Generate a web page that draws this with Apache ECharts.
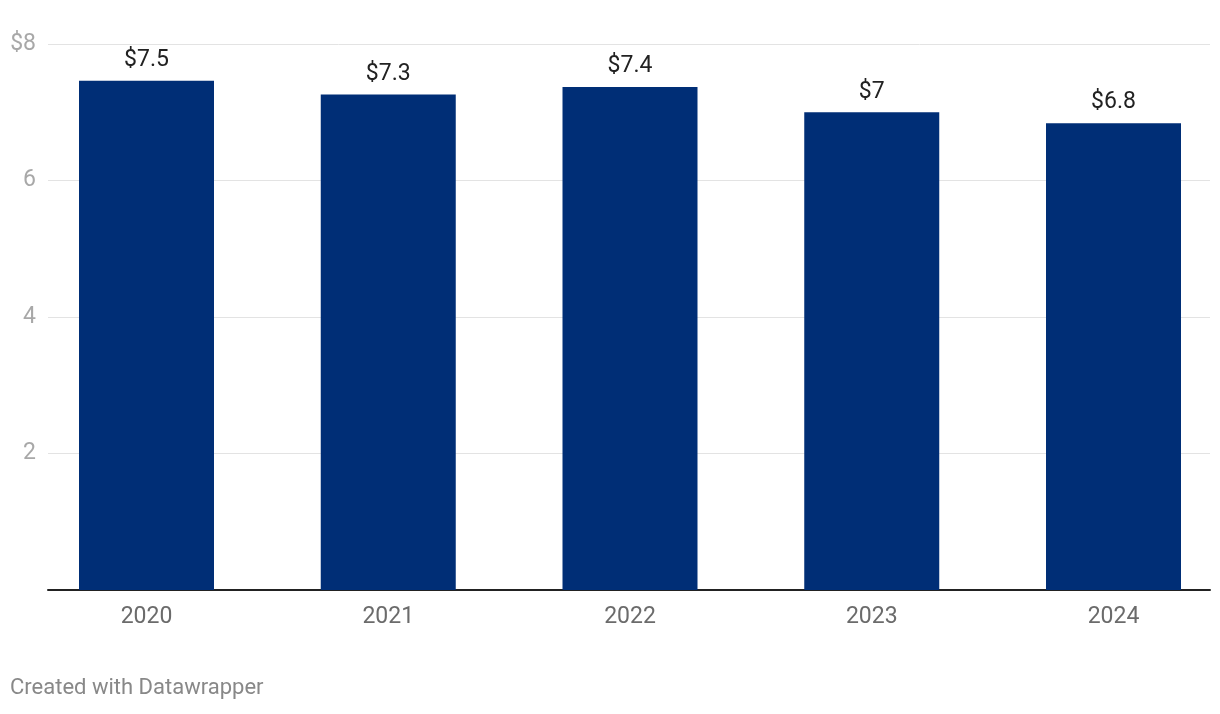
<!DOCTYPE html>
<html>
<head>
<meta charset="utf-8">
<script src="https://cdn.jsdelivr.net/npm/echarts@6/dist/echarts.min.js"></script>
<style>
html,body{margin:0;padding:0;background:#fff;}
#chart{width:1220px;height:714px;}
</style>
</head>
<body>
<div id="chart"></div>
<script>
const categories = ['2020', '2021', '2022', '2023', '2024'];
const values = [7.46, 7.26, 7.37, 7.0, 6.84];
const yTicks = [0, 2, 4, 6, 8];
const yTickLabels = ['', '2', '4', '6', '$8'];

function fmt(v) {
  const r = Math.round(v * 10) / 10;
  return '$' + (Number.isInteger(r) ? r.toString() : r.toFixed(1));
}

const chart = echarts.init(document.getElementById('chart'), null, {renderer: 'canvas'});
const FONT = 'Roboto, "Noto Sans", sans-serif';
chart.setOption({
  animation: false,
  backgroundColor: '#ffffff',
  textStyle: {fontFamily: FONT},
  grid: [
    {left: 48, right: 10, top: 44, bottom: 124, containLabel: false},
    {left: 146.5, right: 106.5, top: 44, bottom: 124, containLabel: false}
  ],
  xAxis: [
    {
      type: 'category', gridIndex: 0, data: categories,
      axisLine: {show: true, lineStyle: {color: '#222', width: 2}},
      axisTick: {show: false}, axisLabel: {show: false}, splitLine: {show: false}
    },
    {
      type: 'category', gridIndex: 1, data: categories, boundaryGap: false,
      axisLine: {show: false}, axisTick: {show: false}, splitLine: {show: false},
      axisLabel: {color: '#6b6b6b', fontSize: 23, margin: 16, fontFamily: FONT}
    }
  ],
  yAxis: [
    {
      type: 'value', gridIndex: 0, min: yTicks[0], max: yTicks[yTicks.length - 1], interval: 2,
      axisLine: {show: false}, axisTick: {show: false},
      splitLine: {show: true, lineStyle: {color: '#e3e3e3', width: 1}},
      axisLabel: {
        color: '#a8a8a8', fontSize: 23, margin: 12, fontFamily: FONT,
        formatter: function (v) { const i = yTicks.indexOf(v); return i >= 0 ? yTickLabels[i] : ''; }
      }
    },
    {
      type: 'value', gridIndex: 1, min: yTicks[0], max: yTicks[yTicks.length - 1], interval: 2,
      show: false, splitLine: {show: false}
    }
  ],
  series: [
    {
      type: 'bar', xAxisIndex: 1, yAxisIndex: 1, data: values,
      barWidth: 135, clip: false,
      itemStyle: {color: '#002e76'},
      label: {
        show: true, position: 'top', distance: 9,
        color: '#222', fontSize: 23, fontFamily: FONT,
        formatter: function (p) { return fmt(p.value); }
      }
    }
  ],
  graphic: [
    {
      type: 'text', left: 10, top: 677,
      style: {text: 'Created with Datawrapper', fill: '#888', fontSize: 22, fontFamily: FONT}
    }
  ]
});
</script>
</body>
</html>
